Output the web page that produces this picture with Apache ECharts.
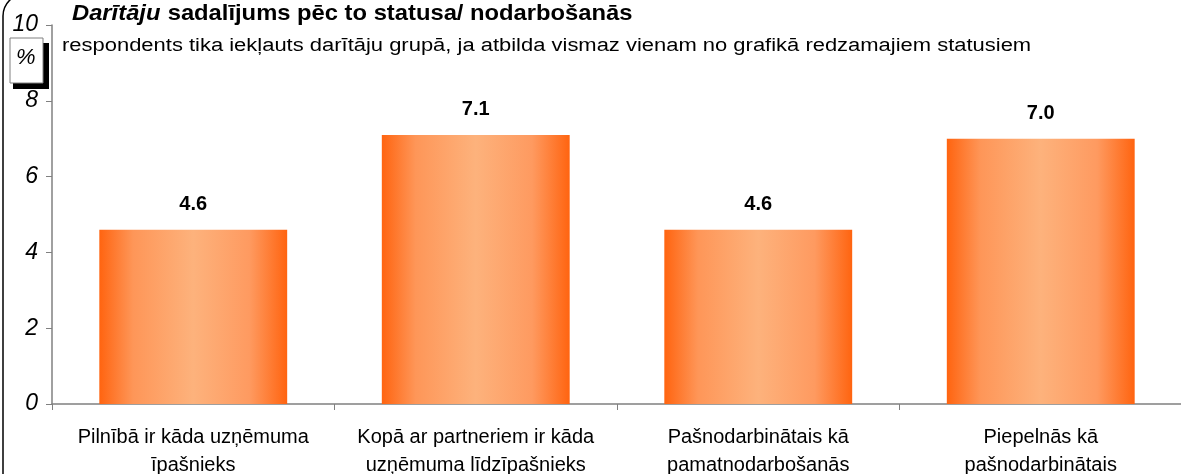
<!DOCTYPE html>
<html>
<head>
<meta charset="utf-8">
<script src="https://cdn.jsdelivr.net/npm/echarts@6/dist/echarts.min.js"></script>
<style>
  html, body { margin: 0; padding: 0; background: #fff; }
  #chart { width: 1181px; height: 474px; }
</style>
</head>
<body>
<div id="chart"></div>
<script>
// data
const categories = [
    'Pilnībā ir kāda uzņēmuma\nīpašnieks',
    'Kopā ar partneriem ir kāda\nuzņēmuma līdzīpašnieks',
    'Pašnodarbinātais kā\npamatnodarbošanās',
    'Piepelnās kā\npašnodarbinātais'
];
const values = [4.6, 7.1, 4.6, 7.0];
const yTicks = [0, 2, 4, 6, 8, 10];

const font = '"Liberation Sans", Arial, sans-serif';

const barGradient = new echarts.graphic.LinearGradient(0, 0, 1, 0, [
    { offset: 0, color: '#ff6410' },
    { offset: 0.18, color: '#fe9658' },
    { offset: 0.5, color: '#fdb27c' },
    { offset: 0.8, color: '#fe9a60' },
    { offset: 1, color: '#ff6410' }
]);

const chart = echarts.init(document.getElementById('chart'));

const option = {
    animation: false,
    backgroundColor: '#fff',
    grid: {
        left: 52, right: -1, top: 25, bottom: 70,
        containLabel: false, outerBoundsMode: 'none'
    },
    xAxis: {
        type: 'category',
        data: categories,
        axisLine: { lineStyle: { color: '#808080', width: 1.5 } },
        axisTick: { show: true, length: 6, lineStyle: { color: '#808080' } },
        axisLabel: {
            color: '#000', fontFamily: font, fontSize: 20, lineHeight: 28,
            margin: 19, interval: 0
        }
    },
    yAxis: {
        type: 'value',
        min: yTicks[0],
        max: yTicks[yTicks.length - 1],
        interval: 2,
        splitLine: { show: false },
        axisLine: { show: true, lineStyle: { color: '#808080', width: 1.5 } },
        axisTick: { show: true, length: 6, lineStyle: { color: '#808080' } },
        axisLabel: {
            color: '#000', fontFamily: font, fontSize: 23, fontStyle: 'italic',
            margin: 14
        }
    },
    series: [{
        type: 'bar',
        data: values,
        barWidth: '66.5%',
        itemStyle: { color: barGradient },
        label: {
            show: true, position: 'top', distance: 15,
            color: '#000', fontFamily: font, fontSize: 20, fontWeight: 'bold',
            formatter: p => p.value.toFixed(1)
        }
    }],
    graphic: [
        {
            type: 'rect', silent: true, z: -1,
            shape: { x: 3, y: -6, width: 1240, height: 540, r: 22 },
            style: { fill: 'none', stroke: '#000', lineWidth: 1.5 }
        },
        {
            type: 'rect', silent: true,
            shape: { x: 13, y: 43, width: 36, height: 46 },
            style: { fill: '#000' }
        },
        {
            type: 'rect', silent: true,
            shape: { x: 10, y: 38, width: 33, height: 45 },
            style: { fill: '#fff', stroke: '#808080', lineWidth: 1 }
        },
        {
            type: 'text', silent: true,
            x: 16, y: 47,
            style: { text: '%', fontFamily: font, fontSize: 22, fontStyle: 'italic', fill: '#000' }
        },
        {
            type: 'text', silent: true,
            x: 72, y: 3, scaleX: 1.08,
            style: {
                text: '{i|Darītāju}  {b|sadalījums pēc to statusa/ nodarbošanās}',
                rich: {
                    i: { fontFamily: font, fontSize: 22, fontStyle: 'italic', fontWeight: 'bold', fill: '#000' },
                    b: { fontFamily: font, fontSize: 22, fontWeight: 'bold', fill: '#000' }
                }
            }
        },
        {
            type: 'text', silent: true,
            x: 62, y: 37, scaleX: 1.22,
            style: {
                text: 'respondents tika iekļauts darītāju grupā, ja atbilda vismaz vienam no grafikā redzamajiem statusiem',
                fontFamily: font, fontSize: 18, fill: '#000'
            }
        }
    ]
};

chart.setOption(option);
</script>
</body>
</html>
